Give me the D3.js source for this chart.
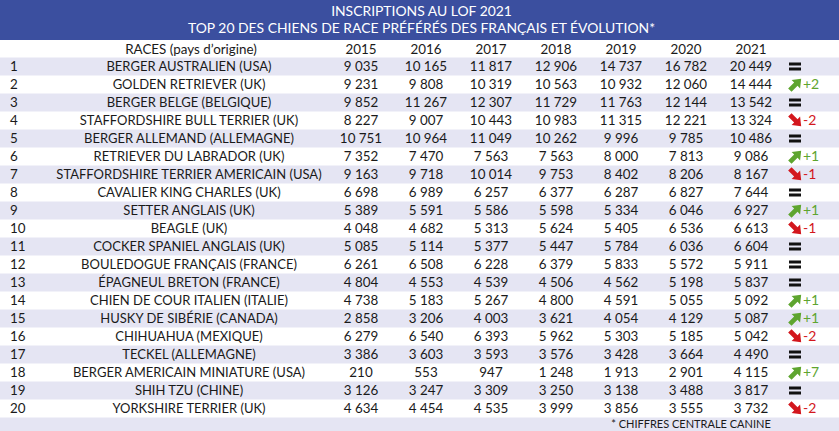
<!DOCTYPE html>
<html lang="fr">
<head>
<meta charset="UTF-8">
<title>Inscriptions au LOF 2021</title>
<script src="https://d3js.org/d3.v7.min.js"></script>
<style>
  body { margin: 0; background: #fff; }
  svg text { font-family: Lato, "Noto Sans", sans-serif; }
</style>
</head>
<body>
<svg width="839" height="431"></svg>
<script>
// data
const titleLines = ["INSCRIPTIONS AU LOF 2021", "TOP 20 DES CHIENS DE RACE PRÉFÉRÉS DES FRANÇAIS ET ÉVOLUTION*"];
const years = ["2015", "2016", "2017", "2018", "2019", "2020", "2021"];
const races = [
  "BERGER AUSTRALIEN (USA)", "GOLDEN RETRIEVER (UK)", "BERGER BELGE (BELGIQUE)",
  "STAFFORDSHIRE BULL TERRIER (UK)", "BERGER ALLEMAND (ALLEMAGNE)", "RETRIEVER DU LABRADOR (UK)",
  "STAFFORDSHIRE TERRIER AMERICAIN (USA)", "CAVALIER KING CHARLES (UK)", "SETTER ANGLAIS (UK)",
  "BEAGLE (UK)", "COCKER SPANIEL ANGLAIS (UK)", "BOULEDOGUE FRANÇAIS (FRANCE)",
  "ÉPAGNEUL BRETON (FRANCE)", "CHIEN DE COUR ITALIEN (ITALIE)", "HUSKY DE SIBÉRIE (CANADA)",
  "CHIHUAHUA (MEXIQUE)", "TECKEL (ALLEMAGNE)", "BERGER AMERICAIN MINIATURE (USA)",
  "SHIH TZU (CHINE)", "YORKSHIRE TERRIER (UK)"
];
const v2015 = [9035, 9231, 9852, 8227, 10751, 7352, 9163, 6698, 5389, 4048, 5085, 6261, 4804, 4738, 2858, 6279, 3386, 210, 3126, 4634];
const v2016 = [10165, 9808, 11267, 9007, 10964, 7470, 9718, 6989, 5591, 4682, 5114, 6508, 4553, 5183, 3206, 6540, 3603, 553, 3247, 4454];
const v2017 = [11817, 10319, 12307, 10443, 11049, 7563, 10014, 6257, 5586, 5313, 5377, 6228, 4539, 5267, 4003, 6393, 3593, 947, 3309, 4535];
const v2018 = [12906, 10563, 11729, 10983, 10262, 7563, 9753, 6377, 5598, 5624, 5447, 6379, 4506, 4800, 3621, 5962, 3576, 1248, 3250, 3999];
const v2019 = [14737, 10932, 11763, 11315, 9996, 8000, 8402, 6287, 5334, 5405, 5784, 5833, 4562, 4591, 4054, 5303, 3428, 1913, 3138, 3856];
const v2020 = [16782, 12060, 12144, 12221, 9785, 7813, 8206, 6827, 6046, 6536, 6036, 5572, 5198, 5055, 4129, 5185, 3664, 2901, 3488, 3555];
const v2021 = [20449, 14444, 13542, 13324, 10486, 9086, 8167, 7644, 6927, 6613, 6604, 5911, 5837, 5092, 5087, 5042, 4490, 4115, 3817, 3732];
const evolution = [0, 2, 0, -2, 0, 1, -1, 0, 1, -1, 0, 0, 0, 1, 1, -2, 0, 7, 0, -2];
const footnote = "* CHIFFRES CENTRALE CANINE";

const series = [v2015, v2016, v2017, v2018, v2019, v2020, v2021];

const W = 839, H = 431;
const blue = "#3b4f9f", shade = "#e5e5f3", green = "#5ea52f", red = "#d3171d";

const svg = d3.select("svg");
const fmt = d3.formatLocale({ decimal: ",", thousands: "\u00A0", grouping: [3], currency: ["", "€"] }).format(",d");

const ranks = d3.range(1, races.length + 1);
const y = d3.scaleBand().domain(ranks).range([57.5, 417.5]);
const x = d3.scalePoint().domain(years).range([361, 751]);

// title band
svg.append("rect").attr("x", 0).attr("y", 0).attr("width", W).attr("height", 40).attr("fill", blue);
svg.selectAll(".title")
  .data(titleLines)
  .enter().append("text")
  .attr("class", "title")
  .attr("x", W / 2 + 2)
  .attr("y", (d, i) => 11 + i * 17.5)
  .attr("dy", "0.35em")
  .attr("text-anchor", "middle")
  .attr("fill", "#fff")
  .attr("font-size", 13.9)
  .text(d => d);

// shaded rows (odd ranks) + footnote band
svg.selectAll(".band")
  .data(ranks.filter(r => r % 2 === 1))
  .enter().append("rect")
  .attr("class", "band")
  .attr("x", 0).attr("width", W)
  .attr("y", d => y(d))
  .attr("height", y.bandwidth())
  .attr("fill", shade);
svg.append("rect").attr("x", 0).attr("y", 417.5).attr("width", W).attr("height", H - 417.5).attr("fill", shade);

// column headers
const head = svg.append("g").attr("font-size", 13.4).attr("fill", "#1a1a1a");
head.append("text").attr("x", 191).attr("y", 49).attr("dy", "0.35em").attr("text-anchor", "middle").text("RACES (pays d’origine)");
head.selectAll(".year")
  .data(years)
  .enter().append("text")
  .attr("class", "year")
  .attr("x", d => x(d))
  .attr("y", 49).attr("dy", "0.35em")
  .attr("text-anchor", "middle")
  .text(d => d);

// rows
const rows = svg.selectAll(".row")
  .data(ranks)
  .enter().append("g")
  .attr("class", "row")
  .attr("transform", d => `translate(0,${y(d) + y.bandwidth() / 2})`)
  .attr("font-size", 13.4)
  .attr("fill", "#1a1a1a");

rows.append("text").attr("x", 10).attr("dy", "0.35em").text(d => d);
rows.append("text").attr("x", 189).attr("dy", "0.35em").attr("text-anchor", "middle")
  .attr("font-size", 13)
  .text(d => races[d - 1]);

years.forEach((yr, j) => {
  rows.append("text")
    .attr("x", x(yr))
    .attr("dy", "0.35em")
    .attr("text-anchor", "middle")
    .text(d => fmt(series[j][d - 1]));
});

// evolution column
const arrowPath = "M-8,-2.4 L0.5,-2.4 L0.5,-6 L8,0 L0.5,6 L0.5,2.4 L-8,2.4 Z";
rows.each(function(d) {
  const g = d3.select(this);
  const ev = evolution[d - 1];
  if (ev === 0) {
    g.append("rect").attr("x", 789).attr("y", -4).attr("width", 12).attr("height", 3).attr("fill", "#111");
    g.append("rect").attr("x", 789).attr("y", 1).attr("width", 12).attr("height", 3).attr("fill", "#111");
  } else {
    const col = ev > 0 ? green : red;
    g.append("path")
      .attr("d", arrowPath)
      .attr("fill", col)
      .attr("transform", `translate(795.5,0) rotate(${ev > 0 ? -45 : 45})`);
    g.append("text")
      .attr("x", 803)
      .attr("dy", "0.35em")
      .attr("font-size", 14)
      .attr("fill", col)
      .text(ev > 0 ? "+" + ev : "-" + Math.abs(ev));
  }
});

// footnote
svg.append("text")
  .attr("x", 691).attr("y", 424.5).attr("dy", "0.35em")
  .attr("text-anchor", "middle")
  .attr("font-size", 11)
  .attr("fill", "#1a1a1a")
  .text(footnote);
</script>
</body>
</html>
